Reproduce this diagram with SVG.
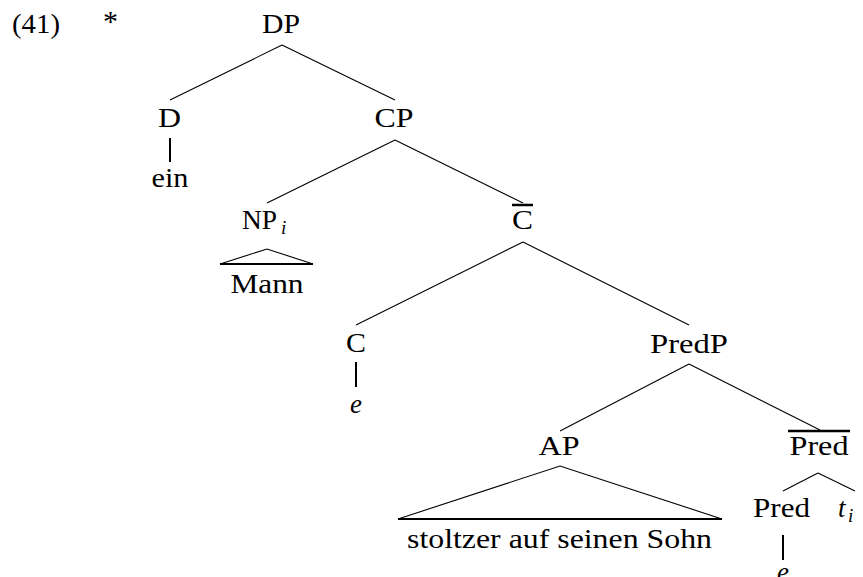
<svg xmlns="http://www.w3.org/2000/svg" width="863" height="577" viewBox="0 0 863 577">
<style>
  text { font-family: 'Liberation Serif', 'Times New Roman', serif; font-size: 27px; fill: #000; }
  .m { text-anchor: middle; }
  .it { font-style: italic; }
  .sub { font-size: 19px; font-style: italic; }
  .edge { stroke: #000; stroke-width: 1.1; fill: none; }
  .unary { stroke: #000; stroke-width: 2; fill: none; }
  .base { stroke: #000; stroke-width: 2.2; fill: none; }
  .bar { stroke: #000; stroke-width: 2.5; }
</style>
<rect width="863" height="577" fill="#fff"/>
<g id="connectors">
  <line class="edge" x1="282" y1="45" x2="170" y2="100"/>
  <line class="edge" x1="282" y1="45" x2="395" y2="100"/>
  <line class="unary" x1="170" y1="138" x2="170" y2="162"/>
  <line class="edge" x1="395" y1="140" x2="267" y2="203"/>
  <line class="edge" x1="395" y1="140" x2="523" y2="203"/>
  <polyline class="edge" points="220,264 267,249 313,264"/>
  <line class="base" x1="220" y1="264" x2="313" y2="264"/>
  <line class="edge" x1="523" y1="242" x2="356" y2="325"/>
  <line class="edge" x1="523" y1="242" x2="689" y2="325"/>
  <line class="unary" x1="356" y1="362" x2="356" y2="387"/>
  <line class="edge" x1="689" y1="364" x2="560" y2="431"/>
  <line class="edge" x1="689" y1="364" x2="820" y2="430"/>
  <polyline class="edge" points="398,519 560,466 722,519"/>
  <line class="base" x1="398" y1="519" x2="722" y2="519"/>
  <line class="edge" x1="818" y1="473" x2="783" y2="491"/>
  <line class="edge" x1="818" y1="473" x2="855" y2="491"/>
  <line class="unary" x1="783" y1="535" x2="783" y2="560"/>
</g>
<g id="ex-number"><text x="12" y="33" textLength="48" lengthAdjust="spacingAndGlyphs">(41)</text></g>
<g id="star"><text class="m" x="110.5" y="31" style="font-size:30px">*</text></g>
<g id="DP"><text class="m" x="281" y="33" textLength="38" lengthAdjust="spacingAndGlyphs">DP</text></g>
<g id="D"><text class="m" x="169.5" y="127" textLength="23" lengthAdjust="spacingAndGlyphs">D</text></g>
<g id="ein"><text class="m" x="170" y="187" textLength="37" lengthAdjust="spacingAndGlyphs">ein</text></g>
<g id="CP"><text class="m" x="394" y="127" textLength="39" lengthAdjust="spacingAndGlyphs">CP</text></g>
<g id="NP"><text x="242" y="229" textLength="35" lengthAdjust="spacingAndGlyphs">NP</text><text class="sub" x="281" y="234">i</text></g>
<g id="Mann"><text class="m" x="267" y="293" textLength="73" lengthAdjust="spacingAndGlyphs">Mann</text></g>
<g id="Cbar"><line class="bar" x1="512" y1="205" x2="533" y2="205"/><text class="m" x="522.5" y="229" textLength="21" lengthAdjust="spacingAndGlyphs">C</text></g>
<g id="C"><text class="m" x="356" y="352" textLength="20" lengthAdjust="spacingAndGlyphs">C</text></g>
<g id="C-e"><text class="m it" x="356" y="413">e</text></g>
<g id="PredP"><text class="m" x="689" y="353" textLength="78" lengthAdjust="spacingAndGlyphs">PredP</text></g>
<g id="AP"><text class="m" x="559" y="455" textLength="41" lengthAdjust="spacingAndGlyphs">AP</text></g>
<g id="Predbar"><line class="bar" x1="788" y1="431" x2="850" y2="431"/><text class="m" x="819" y="455" textLength="59" lengthAdjust="spacingAndGlyphs">Pred</text></g>
<g id="stoltzer"><text class="m" x="559.5" y="548" textLength="305" lengthAdjust="spacingAndGlyphs">stoltzer auf seinen Sohn</text></g>
<g id="Pred"><text class="m" x="781.5" y="517" textLength="57" lengthAdjust="spacingAndGlyphs">Pred</text></g>
<g id="t"><text class="it" x="838" y="517">t</text><text class="sub" x="848" y="522">i</text></g>
<g id="Pred-e"><text class="m it" x="783" y="581">e</text></g>
</svg>
